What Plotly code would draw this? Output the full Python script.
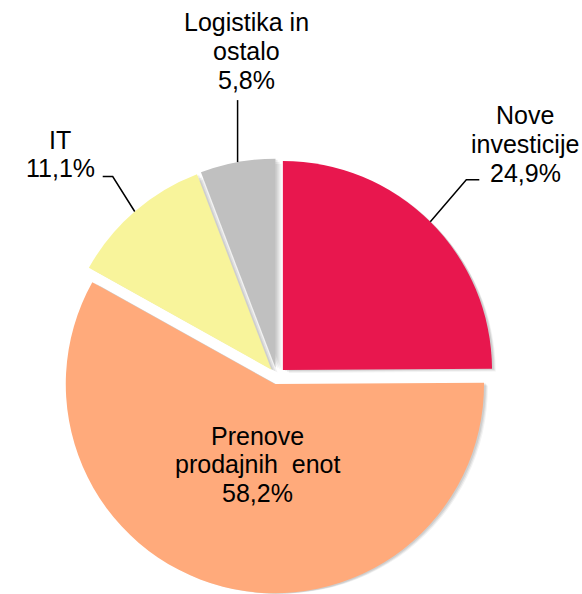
import math
import plotly.graph_objects as go

# ---- data ----
labels = ["Nove investicije", "Prenove prodajnih enot", "IT", "Logistika in ostalo"]
values = [24.9, 58.2, 11.1, 5.8]
label_text = [
    ["Nove", "investicije", "24,9%"],
    ["Prenove", "prodajnih\u00a0 enot", "58,2%"],
    ["IT", "11,1%"],
    ["Logistika in", "ostalo", "5,8%"],
]
colors = ["#E8174E", "#FFAA7B", "#F8F49B", "#C0C0C0"]

# ---- layout geometry (pixels) ----
W, H = 582, 594
CX, CY = 277, 376          # pie centre
S = 435                    # pie box size
PULL = 0.04
R = S / (2 * (1 + PULL))
FONT = "Liberation Sans, Arial, sans-serif"
FS = 25
LH = 28.5


def paper(x, y):
    return x / W, 1 - y / H


def domain(dx=0, dy=0):
    x0, y1 = paper(CX - S / 2 + dx, CY - S / 2 + dy)
    x1, y0 = paper(CX + S / 2 + dx, CY + S / 2 + dy)
    return dict(x=[max(0, x0), min(1, x1)], y=[max(0, y0), min(1, y1)])


fig = go.Figure()

# soft shadow
for off, a in [(6, 0.05), (4, 0.07), (2, 0.08)]:
    fig.add_trace(go.Pie(
        labels=labels, values=values, sort=False, direction="clockwise",
        rotation=0, pull=[PULL] * len(values), textinfo="none", hoverinfo="skip",
        marker=dict(colors=[f"rgba(0,0,0,{a})"] * len(values), line=dict(width=0)),
        domain=domain(off, off - 1), showlegend=False,
    ))

fig.add_trace(go.Pie(
    labels=labels, values=values, sort=False, direction="clockwise",
    rotation=0, pull=[PULL] * len(values), textinfo="none", hoverinfo="label+percent",
    marker=dict(colors=colors, line=dict(width=0)),
    domain=domain(), showlegend=False,
))

# mid-angle arc points computed from data
total = sum(values)
arc_pts = []
cum = 0
for v in values:
    mid = (cum + v / 2) / total * 2 * math.pi
    cum += v
    sx, sy = math.sin(mid), -math.cos(mid)
    cx, cy = CX + PULL * R * sx, CY + PULL * R * sy
    arc_pts.append((cx + R * sx, cy + R * sy))

# leader line elbows (relative offsets) and label block centres
leaders = {
    0: [(36, -42), (13, 0)],
    2: [(-22, -35), (-10, 0)],
    3: [(0, -62)],
}
label_centres = {
    0: (525, 144),
    1: (257, 464),
    2: (60, 154),
    3: (246, 51),
}

shapes = []
for i, segs in leaders.items():
    x, y = arc_pts[i]
    path = f"M {paper(x, y)[0]},{paper(x, y)[1]}"
    for dx, dy in segs:
        x += dx
        y += dy
        px, py = paper(x, y)
        path += f" L {px},{py}"
    shapes.append(dict(type="path", path=path, xref="paper", yref="paper",
                       line=dict(color="black", width=1.5)))

annotations = []
for i, lines in enumerate(label_text):
    xc, yc = label_centres[i]
    n = len(lines)
    for k, t in enumerate(lines):
        yy = yc + (k - (n - 1) / 2) * LH
        px, py = paper(xc, yy)
        annotations.append(dict(text=t, x=px, y=py, xref="paper", yref="paper",
                                xanchor="center", yanchor="middle", showarrow=False,
                                font=dict(family=FONT, size=FS, color="black")))

fig.update_layout(
    width=W, height=H, margin=dict(l=0, r=0, t=0, b=0),
    paper_bgcolor="white", plot_bgcolor="white",
    shapes=shapes, annotations=annotations,
)

fig.write_html("out.html", config={"displayModeBar": False},
               post_script="document.body.style.margin='0';")
